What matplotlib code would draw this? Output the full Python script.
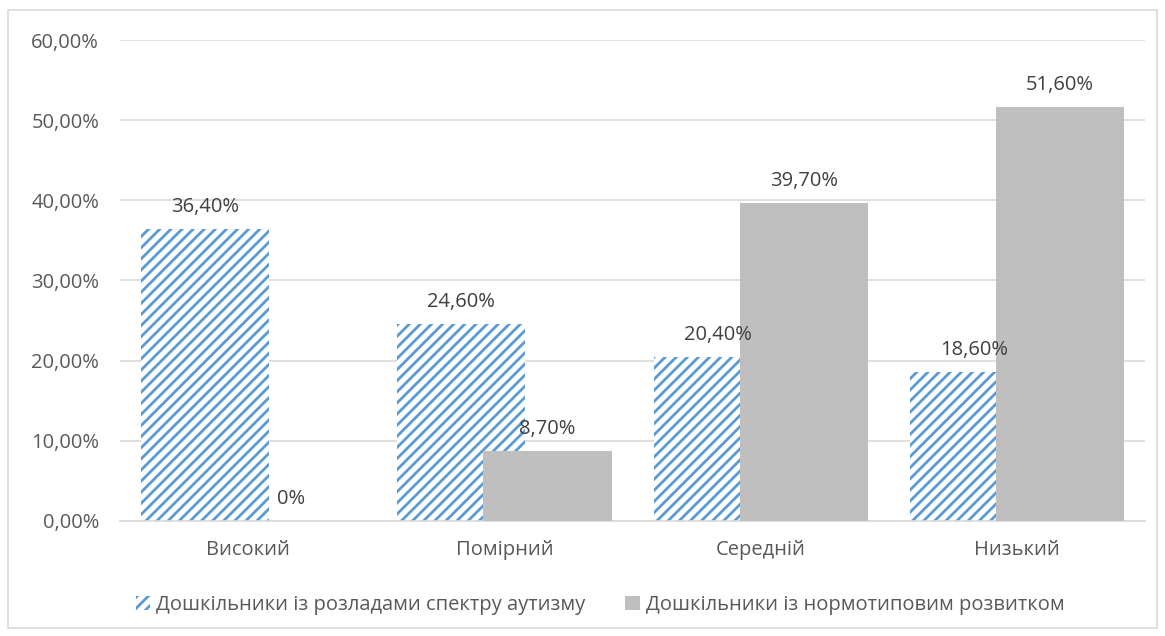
import matplotlib
matplotlib.use("Agg")
import matplotlib.pyplot as plt
import matplotlib.patches as mpatches
import numpy as np

categories = ["Високий", "Помірний", "Середній", "Низький"]
asd_values = [36.4, 24.6, 20.4, 18.6]
typical_values = [0.0, 8.7, 39.7, 51.6]
asd_labels = ["36,40%", "24,60%", "20,40%", "18,60%"]
typical_labels = ["0%", "8,70%", "39,70%", "51,60%"]
y_ticks = [0, 10, 20, 30, 40, 50, 60]
series_names = ["Дошкільники із розладами спектру аутизму",
                "Дошкільники із нормотиповим розвитком"]

plt.rcParams['font.family'] = ['Open Sans', 'DejaVu Sans']
plt.rcParams['hatch.linewidth'] = 2.0

blue = '#5b9bd5'
text_color = '#595959'
grid_color = '#d9d9d9'
grey = '#bfbfbf'
fs = 14.5

fig = plt.figure(figsize=(11.65, 6.36), dpi=100)
ax = fig.add_axes([0.103, 0.181, 0.880, 0.756])

x = np.arange(len(categories))
width = 0.5
offset = 0.168

ax.bar(x - offset, asd_values, width, facecolor='white', hatch='///', edgecolor=blue,
       linewidth=0, zorder=2)
ax.bar(x + offset, typical_values, width, color=grey, edgecolor='none', zorder=3)

for i in range(len(categories)):
    ax.text(x[i] - offset, asd_values[i] + 1.5, asd_labels[i], ha='center', va='bottom',
            fontsize=fs, color='#404040', zorder=5)
    ax.text(x[i] + offset, typical_values[i] + 1.5, typical_labels[i], ha='center', va='bottom',
            fontsize=fs, color='#404040', zorder=5)

ax.set_xlim(-0.5, len(categories) - 0.5)
ax.set_ylim(0, 60)
ax.set_yticks(y_ticks)
ax.set_yticklabels([f"{v},00%" for v in y_ticks])
ax.set_xticks(x)
ax.set_xticklabels(categories)
ax.tick_params(axis='both', length=0, labelsize=fs, labelcolor=text_color)
ax.tick_params(axis='y', pad=15)
ax.tick_params(axis='x', pad=14)
ax.yaxis.grid(True, color=grid_color, linewidth=1.2, zorder=0)
ax.set_axisbelow(True)
for s in ['top', 'right', 'left']:
    ax.spines[s].set_visible(False)
ax.spines['bottom'].set_color(grid_color)
ax.spines['bottom'].set_linewidth(1.2)

handles = [mpatches.Patch(facecolor='white', hatch='///', edgecolor=blue, linewidth=0),
           mpatches.Patch(facecolor=grey, edgecolor='none')]
fig.legend(handles, series_names, loc='center', bbox_to_anchor=(0.515, 0.048), ncol=2,
           frameon=False, fontsize=fs, labelcolor=text_color, handlelength=0.7,
           handleheight=0.7, handletextpad=0.3, columnspacing=2.0)

fig.patches.append(mpatches.Rectangle((8 / 1165, 8 / 636), 1149 / 1165, 618 / 636,
                                      transform=fig.transFigure, fill=False,
                                      edgecolor=grid_color, linewidth=1.2))

fig.savefig("out.png", dpi=100)
